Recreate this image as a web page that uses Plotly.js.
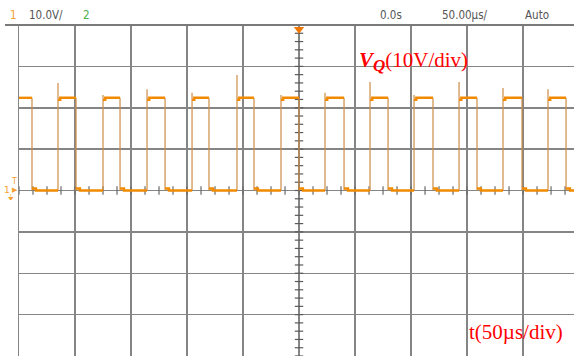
<!DOCTYPE html>
<html><head><meta charset="utf-8">
<script src="https://cdn.plot.ly/plotly-3.0.1.min.js"></script>
<style>html,body{margin:0;padding:0;background:#fff;overflow:hidden}#chart{width:574px;height:356px}</style>
</head><body><div id="chart"></div>
<script>
// Time in microseconds (50 us/div), voltage in volts (10 V/div)
const riseTimes  = [-215.2, -175.0, -135.7, -95.5, -55.4, -16.1, 23.2, 63.4, 102.7, 142.9, 182.1, 222.3];
const fallTimes  = [-238.4, -199.1, -159.8, -119.6, -80.4, -40.2, 0.0, 40.2, 79.5, 119.6, 158.9, 199.1, 238.4];
const spikePeaks = [26.0, 23.1, 24.5, 23.6, 27.9, 23.1, 23.6, 26.2, 23.1, 26.2, 24.8, 24.5];
const highLevel = 22.4;
const lowLevel = 0.0;
const riseHook = 21.9;      // small dip at start of high level
const fallBump = 0.5;       // small bump at start of low level
const hookDur = 2.0, bumpDur = 3.5;
const traceStart = -250, traceEnd = 250;
const xRange = [-250, 245.5];
const yRange = [-40, 40];
const xMinorTicks = [];   // 1/4 division along centre horizontal axis
for (let t = -250; t <= 250; t += 12.5) xMinorTicks.push(t);
const yMinorTicks = [];   // 1/5 division along centre vertical axis
for (let v = -40; v <= 40; v += 2) yMinorTicks.push(v);

// build level segments and edges
const events = [];
riseTimes.forEach((t,i)=>events.push({t, type:'rise', peak: spikePeaks[i]}));
fallTimes.forEach(t=>events.push({t, type:'fall'}));
events.sort((a,b)=>a.t-b.t);

const lx=[], ly=[], ex=[], ey=[];
let cur = traceStart, state = 'high';
function pushSeg(a,b,st,fresh){
  if (st==='high'){
    if (fresh){ lx.push(a,a+hookDur,a+hookDur,b); ly.push(riseHook,riseHook,highLevel,highLevel); }
    else { lx.push(a,b); ly.push(highLevel,highLevel); }
  } else {
    if (fresh){ lx.push(a,a+bumpDur,a+bumpDur,b); ly.push(fallBump,fallBump,lowLevel,lowLevel); }
    else { lx.push(a,b); ly.push(lowLevel,lowLevel); }
  }
  lx.push(null); ly.push(null);
}
let fresh = false;
events.forEach(ev=>{
  pushSeg(cur, ev.t, state, fresh);
  if (ev.type==='rise'){ ex.push(ev.t,ev.t,null); ey.push(lowLevel,ev.peak,null); state='high'; }
  else { ex.push(ev.t,ev.t,null); ey.push(highLevel,lowLevel,null); state='low'; }
  cur = ev.t; fresh = true;
});
pushSeg(cur, traceEnd, state, fresh);

const orange = '#f28a00';
const traces = [
  {x: xMinorTicks, y: xMinorTicks.map(()=>0), mode:'markers', hoverinfo:'skip',
   marker:{symbol:'line-ns', size:6, line:{width:1.2, color:'#6a6a6a'}}},
  {x: yMinorTicks.map(()=>0), y: yMinorTicks, mode:'markers', hoverinfo:'skip',
   marker:{symbol:'line-ew', size:6, line:{width:1.2, color:'#5a5a5a'}}},
  {x: ex, y: ey, mode:'lines', line:{color:'rgba(206,140,70,0.75)', width:1.6}, hoverinfo:'skip'},
  {x: lx, y: ly, mode:'lines', line:{color:orange, width:2.4}, hoverinfo:'skip'},
  {x:[0], y:[39.0], mode:'markers', cliponaxis:false, hoverinfo:'skip',
   marker:{symbol:'triangle-down', size:9, color:'#f07800'}}
];

const L=19, T=25, W=555, H=331;
const px = p => (p-L)/W;
const py = p => (T+H-p)/H;
const hdrFont = {family:'DejaVu Sans Condensed, Liberation Sans Narrow, Liberation Sans, sans-serif', size:11.5, color:'#555'};
function hdr(text, x, color){
  return {text, xref:'paper', yref:'paper', x:px(x), y:py(15), xanchor:'left', yanchor:'middle',
          showarrow:false, font:Object.assign({}, hdrFont, color?{color}:{})};
}
const redFont = {family:'Liberation Serif, Times New Roman, serif', size:21, color:'#ff0000'};
const annotations = [
  hdr('1', 8, '#f5a030'),
  hdr('10.0V/', 27),
  hdr('2', 81, '#4cae4c'),
  hdr('0.0s', 378),
  hdr('50.00µs/', 440),
  hdr('Auto', 523),
  {text:'<b><i>V</i></b><sub><span style="font-size:17px"><b><i>Q</i></b></span></sub>(10V/div)', xref:'paper', yref:'paper', x:px(357), y:py(62),
   xanchor:'left', yanchor:'middle', showarrow:false, font:redFont},
  {text:'t(50µs/div)', xref:'paper', yref:'paper', x:px(467), y:py(332),
   xanchor:'left', yanchor:'middle', showarrow:false, font:redFont},
  {text:'T', xref:'paper', yref:'paper', x:px(14), y:py(181), xanchor:'center', yanchor:'middle', showarrow:false,
   font:{family:'DejaVu Sans', size:8, color:'#f5a030'}},
  {text:'1', xref:'paper', yref:'paper', x:px(7), y:py(190), xanchor:'center', yanchor:'middle', showarrow:false,
   font:{family:'DejaVu Sans', size:9, color:'#f5a030'}},
  {text:'▶', xref:'paper', yref:'paper', x:px(15), y:py(190), xanchor:'center', yanchor:'middle', showarrow:false,
   font:{family:'DejaVu Sans', size:7, color:'#f5a030'}},
  {text:'⏚', xref:'paper', yref:'paper', x:px(11), y:py(197), xanchor:'center', yanchor:'middle', showarrow:false,
   font:{family:'DejaVu Sans', size:8, color:'#f5a030'}}
];

const gridCol = '#858585';
const shapes = [
  {type:'line', xref:'paper', yref:'paper', x0:px(5), x1:1, y0:1, y1:1, line:{color:'#7a7a7a', width:1.8}, layer:'above'},
  {type:'line', xref:'x', yref:'paper', x0:0, x1:0, y0:0, y1:1, line:{color:'#9a9a9a', width:1.2}, layer:'below'},
  {type:'line', xref:'paper', yref:'y', x0:0, x1:1, y0:0, y1:0, line:{color:'#9a9a9a', width:1.2}, layer:'below'}
];

const layout = {
  width:574, height:356,
  margin:{l:L, r:0, t:T, b:0, pad:0},
  paper_bgcolor:'#ffffff', plot_bgcolor:'#ffffff',
  showlegend:false,
  xaxis:{range:xRange, tick0:0, dtick:50, showgrid:true, gridcolor:gridCol, gridwidth:1.5,
         zeroline:false, showticklabels:false, ticks:'', showline:false, fixedrange:true},
  yaxis:{range:yRange, tick0:0, dtick:10, showgrid:true, gridcolor:gridCol, gridwidth:1.5,
         zeroline:false, showticklabels:false, ticks:'', showline:true, linecolor:gridCol, linewidth:1.5,
         mirror:false, fixedrange:true},
  annotations, shapes
};
Plotly.newPlot('chart', traces, layout, {staticPlot:true, displayModeBar:false});
</script></body></html>
